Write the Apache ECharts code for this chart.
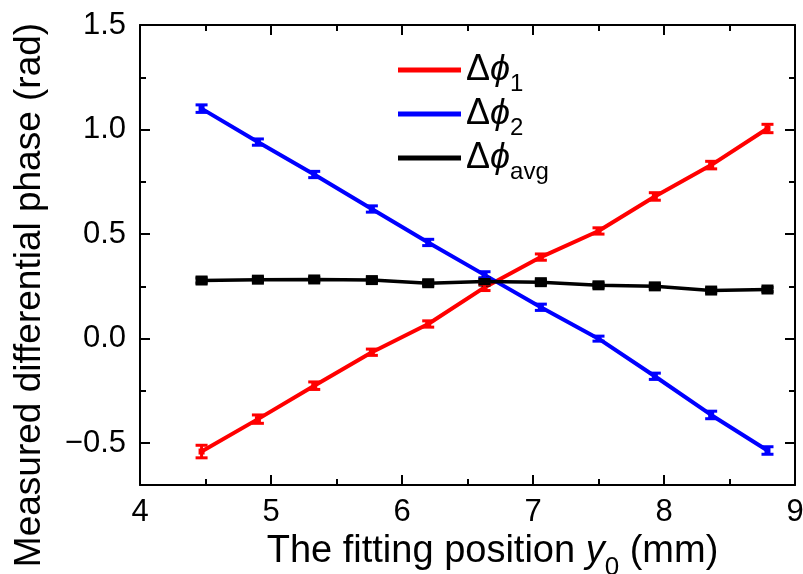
<!DOCTYPE html>
<html>
<head>
<meta charset="utf-8">
<script src="https://cdn.jsdelivr.net/npm/echarts@6/dist/echarts.min.js"></script>
<style>
  html, body { margin: 0; padding: 0; background: #fff; }
  #main { width: 803px; height: 574px; }
</style>
</head>
<body>
<div id="main"></div>
<script>
// fitting position y0 (mm)
var xPos = [4.47, 4.90, 5.33, 5.77, 6.20, 6.63, 7.06, 7.50, 7.93, 8.36, 8.79];
// measured differential phase (rad)
var phi1 = [-0.54, -0.385, -0.225, -0.065, 0.07, 0.245, 0.39, 0.515, 0.68, 0.83, 1.005];
var phi2 = [1.10, 0.94, 0.785, 0.62, 0.46, 0.305, 0.15, 0.0, -0.18, -0.365, -0.535];
var phiAvg = [0.278, 0.282, 0.283, 0.28, 0.265, 0.273, 0.27, 0.255, 0.25, 0.23, 0.235];
// error bars (half width)
var err1 = [0.03, 0.02, 0.018, 0.015, 0.015, 0.015, 0.015, 0.015, 0.018, 0.018, 0.02];
var err2 = [0.018, 0.015, 0.015, 0.015, 0.015, 0.015, 0.015, 0.012, 0.015, 0.018, 0.018];
var errAvg = [0.012, 0.01, 0.01, 0.01, 0.01, 0.01, 0.01, 0.01, 0.01, 0.01, 0.01];
var names = ['Δϕ1', 'Δϕ2', 'Δϕavg'];
var colors = ['#ff0000', '#0000ff', '#000000'];
// y ticks
var yMajor = [-0.5, 0, 0.5, 1.0, 1.5];
var yMinor = [-0.25, 0.25, 0.75, 1.25];

var chart = echarts.init(document.getElementById('main'));

function pairs(ys) {
  return xPos.map(function (x, i) { return [x, ys[i]]; });
}
function errData(ys, es) {
  return xPos.map(function (x, i) { return [x, ys[i] - es[i], ys[i] + es[i]]; });
}
function errorSeries(ys, es, color) {
  return {
    type: 'custom',
    silent: true,
    z: 5,
    data: errData(ys, es),
    renderItem: function (params, api) {
      var lo = api.coord([api.value(0), api.value(1)]);
      var hi = api.coord([api.value(0), api.value(2)]);
      var w = 6;
      var st = { stroke: color, lineWidth: 3 };
      return {
        type: 'group',
        children: [
          { type: 'line', shape: { x1: lo[0], y1: lo[1], x2: hi[0], y2: hi[1] }, style: st },
          { type: 'line', shape: { x1: lo[0] - w, y1: lo[1], x2: lo[0] + w, y2: lo[1] }, style: st },
          { type: 'line', shape: { x1: hi[0] - w, y1: hi[1], x2: hi[0] + w, y2: hi[1] }, style: st }
        ]
      };
    }
  };
}
function lineSeries(name, ys, color, width, sym) {
  return {
    name: name,
    type: 'line',
    data: pairs(ys),
    symbol: 'rect',
    symbolSize: sym,
    itemStyle: { color: color },
    lineStyle: { color: color, width: width },
    z: 3
  };
}

var fontFam = '"Liberation Sans", Arial, sans-serif';
var axLine = { onZero: false, lineStyle: { color: '#000', width: 2 } };

function yAxisPair(pos, withLabel) {
  var major = {
    type: 'value', position: pos, offset: 0,
    min: -0.7, max: 1.5,
    axisLine: axLine,
    axisTick: { inside: true, length: 10, customValues: yMajor, lineStyle: { color: '#000', width: 2 } },
    splitLine: { show: false },
    axisLabel: { show: false }
  };
  if (withLabel) {
    major.name = 'Measured differential phase (rad)';
    major.nameLocation = 'middle';
    major.nameGap = 92;
    major.nameTextStyle = { fontSize: 37, color: '#000', padding: [0, 80, 0, 0] };
    major.axisLabel = {
      show: true, fontSize: 31, color: '#000', margin: 14,
      customValues: yMajor,
      formatter: function (v) { return v.toFixed(1).replace('-', '−'); }
    };
  }
  var minor = {
    type: 'value', position: pos, offset: 0,
    min: -0.7, max: 1.5,
    axisLine: { show: false },
    axisTick: { inside: true, length: 6, customValues: yMinor, lineStyle: { color: '#000', width: 2 } },
    splitLine: { show: false },
    axisLabel: { show: false }
  };
  return [major, minor];
}

option = {
  animation: false,
  textStyle: { fontFamily: fontFam },
  grid: { left: 140, right: 8, top: 25, bottom: 89, outerBoundsMode: 'none' },
  legend: {
    orient: 'vertical',
    left: 393,
    top: 47,
    itemWidth: 63,
    itemHeight: 5,
    itemGap: 0,
    icon: 'rect',
    data: names,
    formatter: function (n) {
      var sub = n.replace('Δϕ', '');
      return '{d|Δ}{p|ϕ}{s|' + sub + '}';
    },
    textStyle: {
      rich: {
        d: { fontSize: 36, color: '#000', fontFamily: fontFam, lineHeight: 36, verticalAlign: 'bottom' },
        p: { fontSize: 36, color: '#000', fontFamily: fontFam, fontStyle: 'italic', lineHeight: 36, verticalAlign: 'bottom' },
        s: { fontSize: 24, color: '#000', fontFamily: fontFam, lineHeight: 20, verticalAlign: 'bottom', padding: [0, 0, -8, 0] }
      }
    }
  },
  xAxis: [{
    type: 'value',
    min: 4,
    max: 9,
    interval: 1,
    name: 'The fitting position {i|y}{s|0} (mm)',
    nameLocation: 'middle',
    nameGap: 46,
    nameTextStyle: {
      fontSize: 38,
      color: '#000',
      padding: [0, 0, 0, 50],
      rich: {
        i: { fontSize: 38, fontStyle: 'italic', color: '#000', fontFamily: fontFam },
        s: { fontSize: 26, color: '#000', fontFamily: fontFam, verticalAlign: 'bottom', padding: [0, 0, -10, 0] }
      }
    },
    axisLine: axLine,
    axisTick: { inside: true, length: 10, lineStyle: { color: '#000', width: 2 } },
    minorTick: { show: true, splitNumber: 2, length: 6, lineStyle: { color: '#000', width: 2 } },
    splitLine: { show: false },
    axisLabel: { fontSize: 31, color: '#000', margin: 12 }
  }, {
    type: 'value',
    position: 'top',
    min: 4,
    max: 9,
    interval: 1,
    axisLine: axLine,
    axisTick: { inside: true, length: 10, lineStyle: { color: '#000', width: 2 } },
    minorTick: { show: true, splitNumber: 2, length: 6, lineStyle: { color: '#000', width: 2 } },
    splitLine: { show: false },
    axisLabel: { show: false }
  }],
  yAxis: yAxisPair('left', true).concat(yAxisPair('right', false)),
  series: [
    lineSeries(names[0], phi1, colors[0], 4, [6, 6]),
    lineSeries(names[1], phi2, colors[1], 4, [6, 6]),
    lineSeries(names[2], phiAvg, colors[2], 3.5, [12, 10]),
    errorSeries(phi1, err1, colors[0]),
    errorSeries(phi2, err2, colors[1]),
    errorSeries(phiAvg, errAvg, colors[2])
  ]
};

if (option && typeof option === 'object') {
  chart.setOption(option, true);
}
</script>
</body>
</html>
